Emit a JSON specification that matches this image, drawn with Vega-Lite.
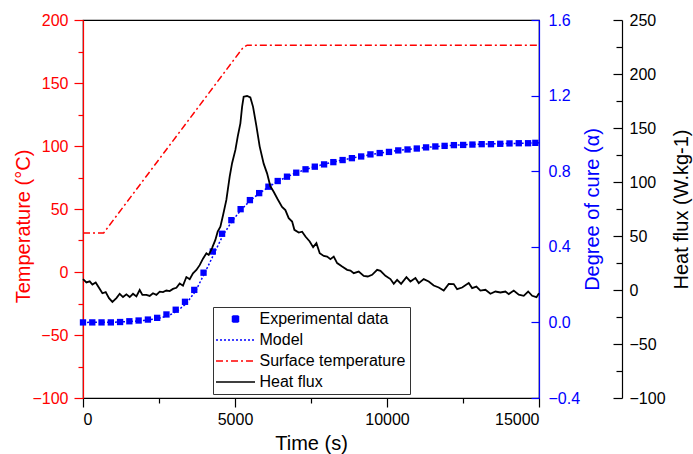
{
  "$schema": "https://vega.github.io/schema/vega-lite/v6.json",
  "width": 456,
  "height": 378,
  "autosize": {"type": "none"},
  "padding": {"left": 83, "top": 20, "right": 154, "bottom": 56},
  "config": {
    "font": "Liberation Sans",
    "view": {"stroke": "black", "strokeWidth": 1.2},
    "axis": {"grid": false, "labelOverlap": false, "labelFontSize": 16, "titleFontSize": 20, "titleFontWeight": "normal", "domainWidth": 1.2, "tickWidth": 1.2, "labelFont": "Liberation Sans", "titleFont": "Liberation Sans"}
  },
  "datasets": {
    "temp": [
      {"t": 0, "T": 31}, {"t": 680, "T": 31}, {"t": 1098, "T": 44.4}, {"t": 5263, "T": 178}, {"t": 5400, "T": 180}, {"t": 15000, "T": 180}
    ],
    "exp": [
      {"t": 0, "a": 0}, {"t": 305, "a": 0}, {"t": 610, "a": 0}, {"t": 915, "a": 0}, {"t": 1220, "a": 0.002}, {"t": 1525, "a": 0.006}, {"t": 1830, "a": 0.01}, {"t": 2135, "a": 0.015}, {"t": 2440, "a": 0.024}, {"t": 2745, "a": 0.042}, {"t": 3050, "a": 0.067}, {"t": 3355, "a": 0.109}, {"t": 3660, "a": 0.172}, {"t": 3965, "a": 0.263}, {"t": 4270, "a": 0.375}, {"t": 4575, "a": 0.469}, {"t": 4880, "a": 0.541}, {"t": 5185, "a": 0.599}, {"t": 5490, "a": 0.647}, {"t": 5795, "a": 0.684}, {"t": 6100, "a": 0.718}, {"t": 6405, "a": 0.748}, {"t": 6710, "a": 0.771}, {"t": 7015, "a": 0.792}, {"t": 7320, "a": 0.81}, {"t": 7625, "a": 0.824}, {"t": 7930, "a": 0.836}, {"t": 8235, "a": 0.848}, {"t": 8540, "a": 0.859}, {"t": 8845, "a": 0.869}, {"t": 9150, "a": 0.878}, {"t": 9455, "a": 0.889}, {"t": 9760, "a": 0.896}, {"t": 10065, "a": 0.902}, {"t": 10370, "a": 0.91}, {"t": 10675, "a": 0.915}, {"t": 10980, "a": 0.92}, {"t": 11285, "a": 0.926}, {"t": 11590, "a": 0.931}, {"t": 11895, "a": 0.934}, {"t": 12200, "a": 0.938}, {"t": 12505, "a": 0.939}, {"t": 12810, "a": 0.941}, {"t": 13115, "a": 0.943}, {"t": 13420, "a": 0.943}, {"t": 13725, "a": 0.945}, {"t": 14030, "a": 0.947}, {"t": 14335, "a": 0.948}, {"t": 14640, "a": 0.948}, {"t": 14880, "a": 0.95}
    ],
    "model": [
      {"t": 0, "a": 0}, {"t": 1000, "a": 0.001}, {"t": 1500, "a": 0.004}, {"t": 2000, "a": 0.01}, {"t": 2500, "a": 0.022}, {"t": 2800, "a": 0.035}, {"t": 3100, "a": 0.06}, {"t": 3400, "a": 0.1}, {"t": 3700, "a": 0.165}, {"t": 4000, "a": 0.26}, {"t": 4300, "a": 0.36}, {"t": 4600, "a": 0.46}, {"t": 4900, "a": 0.535}, {"t": 5200, "a": 0.595}, {"t": 5500, "a": 0.645}, {"t": 5800, "a": 0.683}, {"t": 6100, "a": 0.716}, {"t": 6400, "a": 0.746}, {"t": 6700, "a": 0.77}, {"t": 7000, "a": 0.79}, {"t": 7300, "a": 0.808}, {"t": 7600, "a": 0.823}, {"t": 7900, "a": 0.836}, {"t": 8200, "a": 0.847}, {"t": 8500, "a": 0.858}, {"t": 8800, "a": 0.868}, {"t": 9100, "a": 0.877}, {"t": 9400, "a": 0.886}, {"t": 9700, "a": 0.894}, {"t": 10000, "a": 0.901}, {"t": 10300, "a": 0.908}, {"t": 10600, "a": 0.914}, {"t": 10900, "a": 0.919}, {"t": 11200, "a": 0.924}, {"t": 11500, "a": 0.929}, {"t": 11800, "a": 0.933}, {"t": 12100, "a": 0.936}, {"t": 12400, "a": 0.939}, {"t": 12700, "a": 0.941}, {"t": 13000, "a": 0.943}, {"t": 13300, "a": 0.944}, {"t": 13600, "a": 0.945}, {"t": 13900, "a": 0.946}, {"t": 14200, "a": 0.947}, {"t": 14500, "a": 0.948}, {"t": 14800, "a": 0.949}, {"t": 15000, "a": 0.95}
    ],
    "hf": [
      {"t": 0, "q": 10}, {"t": 112, "q": 7}, {"t": 220, "q": 8}, {"t": 309, "q": 5}, {"t": 418, "q": 7}, {"t": 526, "q": 2}, {"t": 638, "q": -3}, {"t": 747, "q": -2}, {"t": 855, "q": -7.5}, {"t": 967, "q": -11}, {"t": 1099, "q": -7.5}, {"t": 1207, "q": -3.5}, {"t": 1316, "q": -6.5}, {"t": 1427, "q": -4}, {"t": 1536, "q": -6.5}, {"t": 1645, "q": -3.5}, {"t": 1756, "q": -6}, {"t": 1865, "q": 0}, {"t": 1954, "q": -4.5}, {"t": 2085, "q": -4.5}, {"t": 2194, "q": -5.5}, {"t": 2302, "q": -3}, {"t": 2414, "q": -4.5}, {"t": 2523, "q": -1.5}, {"t": 2631, "q": -2}, {"t": 2743, "q": -0.5}, {"t": 2852, "q": -1}, {"t": 2960, "q": 1}, {"t": 3072, "q": 2}, {"t": 3181, "q": 6}, {"t": 3289, "q": 4}, {"t": 3401, "q": 12}, {"t": 3510, "q": 10}, {"t": 3618, "q": 15.5}, {"t": 3730, "q": 18.5}, {"t": 3838, "q": 23}, {"t": 3947, "q": 29}, {"t": 4059, "q": 34}, {"t": 4135, "q": 32.5}, {"t": 4245, "q": 38.8}, {"t": 4354, "q": 46.4}, {"t": 4430, "q": 54}, {"t": 4519, "q": 58.6}, {"t": 4608, "q": 69.5}, {"t": 4716, "q": 83.4}, {"t": 4825, "q": 105}, {"t": 4904, "q": 117.4}, {"t": 5013, "q": 129.7}, {"t": 5089, "q": 142}, {"t": 5177, "q": 154.3}, {"t": 5233, "q": 169.6}, {"t": 5285, "q": 179}, {"t": 5397, "q": 179.6}, {"t": 5505, "q": 178.3}, {"t": 5594, "q": 169.6}, {"t": 5703, "q": 152}, {"t": 5811, "q": 133}, {"t": 5943, "q": 117}, {"t": 6055, "q": 108}, {"t": 6163, "q": 96}, {"t": 6272, "q": 91}, {"t": 6404, "q": 84}, {"t": 6548, "q": 77}, {"t": 6657, "q": 74}, {"t": 6767, "q": 66.5}, {"t": 6879, "q": 63.4}, {"t": 6954, "q": 55.7}, {"t": 7096, "q": 53.2}, {"t": 7208, "q": 54}, {"t": 7317, "q": 49.5}, {"t": 7458, "q": 44.9}, {"t": 7570, "q": 39.7}, {"t": 7678, "q": 43.4}, {"t": 7787, "q": 34.1}, {"t": 7919, "q": 31.6}, {"t": 8031, "q": 31}, {"t": 8139, "q": 28.6}, {"t": 8248, "q": 31}, {"t": 8360, "q": 24.9}, {"t": 8524, "q": 21.7}, {"t": 8689, "q": 18.7}, {"t": 8797, "q": 18}, {"t": 8906, "q": 15.6}, {"t": 9070, "q": 17.1}, {"t": 9235, "q": 13.1}, {"t": 9367, "q": 12.5}, {"t": 9511, "q": 14.1}, {"t": 9676, "q": 18.7}, {"t": 9785, "q": 17.8}, {"t": 9949, "q": 13.1}, {"t": 10113, "q": 10.1}, {"t": 10222, "q": 5.7}, {"t": 10333, "q": 9.4}, {"t": 10464, "q": 5.7}, {"t": 10639, "q": 11.9}, {"t": 10770, "q": 7.9}, {"t": 10935, "q": 11}, {"t": 11044, "q": 6.4}, {"t": 11208, "q": 10.1}, {"t": 11373, "q": 7.9}, {"t": 11537, "q": 4.2}, {"t": 11702, "q": 2.3}, {"t": 11866, "q": -0.5}, {"t": 12031, "q": 5.7}, {"t": 12195, "q": 5.5}, {"t": 12307, "q": 0.8}, {"t": 12471, "q": 2.3}, {"t": 12689, "q": 6.4}, {"t": 12800, "q": 1.8}, {"t": 12941, "q": 3.2}, {"t": 13073, "q": -0.5}, {"t": 13238, "q": 0.2}, {"t": 13402, "q": -3.5}, {"t": 13567, "q": -1.4}, {"t": 13731, "q": -2.3}, {"t": 13896, "q": -1.4}, {"t": 14005, "q": -3.8}, {"t": 14169, "q": -0.5}, {"t": 14334, "q": -4.4}, {"t": 14498, "q": -5.4}, {"t": 14643, "q": -1.4}, {"t": 14775, "q": -5.4}, {"t": 14917, "q": -6.6}, {"t": 15000, "q": -3}
    ]
  },
  "layer": [
    {
      "data": {"name": "temp"},
      "mark": {"type": "line", "strokeDash": [7, 3, 2, 3], "strokeWidth": 1.5},
      "encoding": {
        "x": {"field": "t", "type": "quantitative", "scale": {"domain": [0, 15000], "nice": false},
          "axis": {"title": "Time (s)", "values": [0, 2500, 5000, 7500, 10000, 12500, 15000], "format": "d",
            "labelExpr": "datum.value % 5000 === 0 ? datum.label : ''",
            "tickSize": {"condition": {"test": "datum.value % 5000 === 0", "value": 9}, "value": 5},
            "domainColor": "black", "tickColor": "black", "labelColor": "black", "titleColor": "black", "labelPadding": 4, "titlePadding": 6}},
        "y": {"field": "T", "type": "quantitative", "scale": {"domain": [-100, 200], "nice": false},
          "axis": {"title": "Temperature (°C)", "orient": "left", "values": [-100, -75, -50, -25, 0, 25, 50, 75, 100, 125, 150, 175, 200],
            "labelExpr": "datum.value % 50 === 0 ? datum.label : ''",
            "tickSize": {"condition": {"test": "datum.value % 50 === 0", "value": 9}, "value": 5},
            "domainColor": "#ff0000", "tickColor": "#ff0000", "labelColor": "#ff0000", "titleColor": "#ff0000", "labelPadding": 6, "titlePadding": -2, "titleY": 206}},
        "color": {"datum": "Surface temperature", "type": "nominal",
          "scale": {"domain": ["Experimental data", "Model", "Surface temperature", "Heat flux"], "range": ["#0000ff", "#0000ff", "#ff0000", "#000000"]},
          "legend": {"title": null, "orient": "none", "legendX": 130, "legendY": 287, "symbolSize": 144, "symbolOffset": 10.5, "symbolStrokeWidth": 1.5,
            "labelFontSize": 16, "labelFont": "Liberation Sans", "labelColor": "black", "padding": 4, "rowPadding": 5, "labelOffset": 16,
            "strokeColor": "#333333", "fillColor": "white",
            "encode": {"symbols": {"update": {
              "shape": {"signal": "datum.value === 'Experimental data' ? 'square' : 'M-3.25,0H3.25'"},
              "size": {"signal": "datum.value === 'Experimental data' ? 36 : 144"},
              "strokeDash": {"signal": "datum.value === 'Model' ? [2, 2] : (datum.value === 'Surface temperature' ? [7, 3, 2, 3] : [1, 0])"},
              "fill": {"signal": "datum.value === 'Experimental data' ? '#0000ff' : 'transparent'"},
              "stroke": {"signal": "datum.value === 'Experimental data' ? 'transparent' : scale('color', datum.value)"},
              "strokeWidth": {"value": 1.5},
              "opacity": {"value": 1}
            }}}}}
      }
    },
    {
      "layer": [
        {
          "data": {"name": "exp"},
          "mark": {"type": "point", "shape": "square", "filled": true, "size": 40, "opacity": 1},
          "encoding": {
            "x": {"field": "t", "type": "quantitative"},
            "y": {"field": "a", "type": "quantitative", "scale": {"domain": [-0.4, 1.6], "nice": false},
              "axis": {"title": "Degree of cure (α)", "orient": "right", "values": [-0.4, -0.2, 0, 0.2, 0.4, 0.6, 0.8, 1, 1.2, 1.4, 1.6], "format": ".1f",
                "labelExpr": "abs(round(datum.value * 10)) % 4 == 0 ? datum.label : ''",
                "tickSize": {"condition": {"test": "abs(round(datum.value * 10)) % 4 == 0", "value": -8}, "value": -5},
                "domainColor": "#0000ff", "tickColor": "#0000ff", "labelColor": "#0000ff", "titleColor": "#0000ff", "titleAngle": 270, "labelPadding": 17, "titlePadding": 23}},
            "color": {"datum": "Experimental data", "type": "nominal"}
          }
        },
        {
          "data": {"name": "model"},
          "mark": {"type": "line", "strokeDash": [2, 2], "strokeWidth": 1.5},
          "encoding": {
            "x": {"field": "t", "type": "quantitative"},
            "y": {"field": "a", "type": "quantitative", "axis": {"title": "Degree of cure (α)"}},
            "color": {"datum": "Model", "type": "nominal"}
          }
        }
      ]
    },
    {
      "data": {"name": "hf"},
      "mark": {"type": "line", "strokeWidth": 1.8},
      "encoding": {
        "x": {"field": "t", "type": "quantitative"},
        "y": {"field": "q", "type": "quantitative", "scale": {"domain": [-100, 250], "nice": false},
          "axis": {"title": "Heat flux (W.kg-1)", "orient": "right", "offset": 83, "values": [-100, -75, -50, -25, 0, 25, 50, 75, 100, 125, 150, 175, 200, 225, 250],
            "labelExpr": "datum.value % 50 === 0 ? datum.label : ''",
            "tickSize": {"condition": {"test": "datum.value % 50 === 0", "value": -9}, "value": -6},
            "domainColor": "black", "tickColor": "black", "labelColor": "black", "titleColor": "black", "titleAngle": 270, "labelPadding": 16, "titlePadding": 26}},
        "color": {"datum": "Heat flux", "type": "nominal"}
      }
    }
  ],
  "resolve": {"scale": {"y": "independent"}, "axis": {"y": "independent"}}
}
